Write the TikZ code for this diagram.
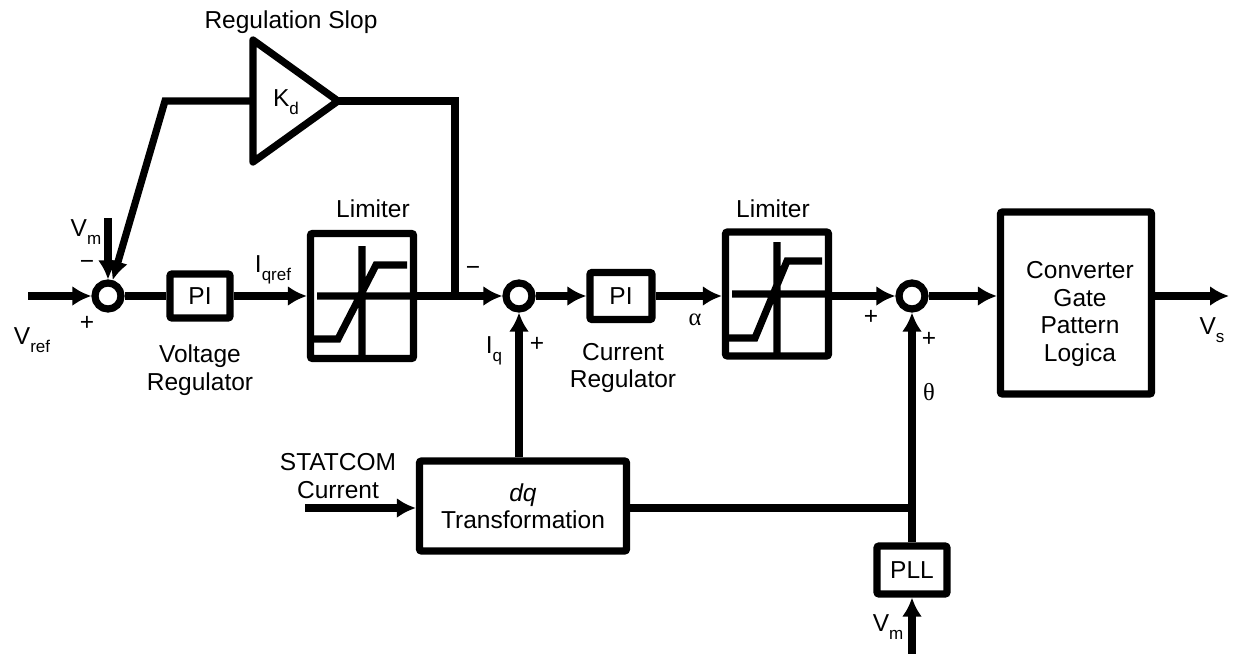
\documentclass[tikz,border=0pt]{standalone}
\usepackage{fontspec}
\setmainfont{Liberation Sans}
\newfontfamily\grk{Liberation Serif}
\usepackage{tikz}
\usetikzlibrary{arrows.meta}
\newcommand{\lblfont}{\fontsize{12.25}{13.75}\selectfont}
\newcommand{\sbs}[2]{#1\raisebox{-0.6ex}{\fontsize{8.5}{9}\selectfont #2}}

\begin{document}
\begin{tikzpicture}[x=0.5pt, y=-0.5pt, line width=3.6pt]
      \tikzset{blk/.style={rectangle, draw, rounded corners=1pt, inner sep=0pt, align=center, font=\lblfont},
        sumj/.style={circle, draw, minimum size=13pt, inner sep=0pt},
        lbl/.style={inner sep=0pt, align=center, font=\lblfont},
        arr/.style={-{Latex[length=9.5pt,width=10pt]}}}
      \useasboundingbox (0,0) rectangle (1233,654);
      % main row
      \node[sumj] (sum1) at (108,296) {};
      \node[blk, minimum width=30pt, minimum height=22pt] (pi1) at (200,296) {PI};
      \node[blk, minimum width=51.5pt, minimum height=62.5pt] (lim1) at (362,296) {};
      \node[sumj] (sum2) at (519,296) {};
      \node[blk, minimum width=31pt, minimum height=23.5pt] (pi2) at (621,296) {PI};
      \node[blk, minimum width=51.5pt, minimum height=62pt] (lim2) at (777,294) {};
      \node[sumj] (sum3) at (912,296) {};
      \node[blk, minimum width=75.5pt, minimum height=91pt] (conv) at (1076,303) {};
      \node[lbl] (convtxt) at (1080,314) {Converter\\Gate\\Pattern\\Logica};
      % lower row
      \node[blk, minimum width=103.5pt, minimum height=45pt] (dq) at (523,506) {\textit{dq}\\Transformation};
      \node[blk, minimum width=35pt, minimum height=24pt] (pll) at (912,570) {PLL};
      % limiter curves
      \draw[shift={(lim1.center)}] (0,-50) -- (0,62) (-45,0) -- (51,0) (-51,43) -- (-24,43) -- (14,-31) -- (45,-31);
      \draw[shift={(lim2.center)}] (0,-52) -- (0,62) (-45,0) -- (51,0) (-51,44) -- (-22,44) -- (10,-33) -- (45,-33);
      % regulation slope gain
      \draw[line join=round] (253,40) -- (338,101) -- (253,162) -- cycle;
      \node[lbl] (kd) at (286,102) {\sbs{K}{d}};
      \coordinate (kdin) at (253,101);
      \coordinate (kdout) at (338,101);
      \coordinate (fbc) at (165,101);
      \coordinate (j1) at (455,296);
      \coordinate (vin) at (28,296);
      \coordinate (vmtop) at (108,218);
      \coordinate (stin) at (305,508);
      \coordinate (vmbot) at (912,654);
      \coordinate (vsout) at (1229,296);
      % connectors
      \draw[arr] (vin) -- (sum1);
      \draw[arr] (vmtop) -- (sum1);
      \draw (sum1) -- (pi1);
      \draw[arr] (pi1) -- (lim1.west |- pi1);
      \draw[arr] (lim1.east |- sum2) -- (sum2);
      \draw[arr] (sum2) -- (pi2);
      \draw[arr] (pi2) -- (lim2.west |- pi2);
      \draw[arr] (lim2.east |- sum3) -- (sum3);
      \draw[arr] (sum3) -- (sum3 -| conv.west);
      \draw[arr] (sum3 -| conv.east) -- (vsout);
      \draw (j1) |- (kdout);
      \draw[arr] (kdin) -- (fbc) -- (sum1);
      \draw[arr] (dq.north -| sum2) -- (sum2);
      \draw[arr] (stin) -- (stin -| dq.west);
      \draw (dq.east |- stin) -- (stin -| pll);
      \draw[arr] (pll) -- (sum3);
      \draw[arr] (vmbot) -- (pll);
      % labels
      \node[lbl] (rstitle) at (291,22) {Regulation Slop};
      \node[lbl] (lim1txt) at (373,209) {Limiter};
      \node[lbl] (lim2txt) at (773,209) {Limiter};
      \node[lbl] (vmlbl) at (86,232) {\sbs{V}{m}};
      \node[lbl] (minus1) at (87,265) {−};
      \node[lbl] (plus1) at (87,323) {+};
      \node[lbl] (vref) at (32,340) {\sbs{V}{ref}};
      \node[lbl] (iqref) at (273,270) {\sbs{I}{qref}};
      \node[lbl] (vreg) at (200,370) {Voltage\\Regulator};
      \node[lbl] (minus2) at (473,271) {−};
      \node[lbl] (iq) at (494,351) {\sbs{I}{q}};
      \node[lbl] (plus2) at (537,344) {+};
      \node[lbl] (creg) at (623,368) {Current\\Regulator};
      \node[lbl] (alpha) at (695,320) {\grk α};
      \node[lbl] (plus3) at (871,317) {+};
      \node[lbl] (plus4) at (929,339) {+};
      \node[lbl] (theta) at (929,392) {\grk θ};
      \node[lbl] (vs) at (1212,330) {\sbs{V}{s}};
      \node[lbl] (stat) at (338,476) {STATCOM\\Current};
      \node[lbl] (vmlbl2) at (888,627) {\sbs{V}{m}};
    \end{tikzpicture}
\end{document}
